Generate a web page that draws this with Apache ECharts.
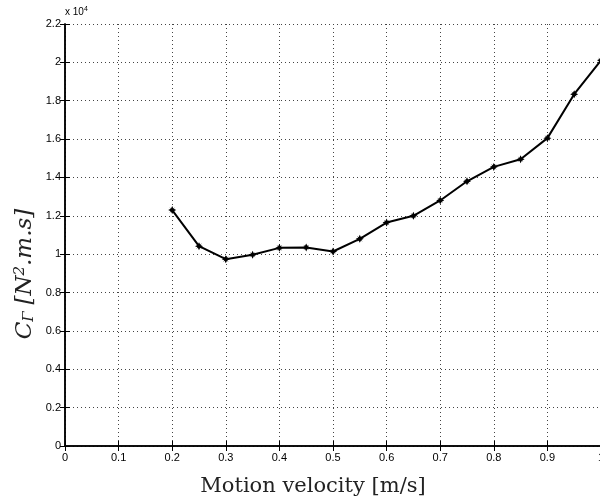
<!DOCTYPE html>
<html><head><meta charset="utf-8">
<script src="https://cdn.jsdelivr.net/npm/echarts@6/dist/echarts.min.js"></script>
<style>html,body{margin:0;padding:0;background:#fff}#c{width:600px;height:503px}</style>
</head><body><div id="c"></div>
<script>
const velocity = [0.2,0.25,0.3,0.35,0.4,0.45,0.5,0.55,0.6,0.65,0.7,0.75,0.8,0.85,0.9,0.95,1.0];
const cGamma = [12300,10420,9740,9970,10330,10350,10140,10800,11650,12000,12800,13800,14550,14950,16050,18340,20110];
const xTicks = [0,0.1,0.2,0.3,0.4,0.5,0.6,0.7,0.8,0.9,1];
const yTicks = [0,0.2,0.4,0.6,0.8,1,1.2,1.4,1.6,1.8,2,2.2];

const chart = echarts.init(document.getElementById('c'));
const labelFont = {fontFamily:'Liberation Sans, Arial', fontSize:11, color:'#000'};
const grid = {left:65, right:-1, top:24, bottom:57, outerBoundsMode:'none', containLabel:false};
const dotted = {show:true, lineStyle:{color:'#444', type:[1,3], width:1}};
chart.setOption({
  animation:false,
  grid: grid,
  graphic:[{
    type:'text', left:65, top:6,
    style:{text:'{a|x 10}{s|4}', rich:{a:{fontFamily:'Liberation Sans, Arial',fontSize:10,fill:'#000'}, s:{fontFamily:'Liberation Sans, Arial',fontSize:7,fill:'#000',verticalAlign:'top',padding:[0,0,6,0]}}}
  },{
    type:'text', x:313, y:487,
    style:{text:'Motion velocity [m/s]', fontFamily:'DejaVu Serif', fontSize:21, fill:'#222', align:'center', verticalAlign:'middle'}
  },{
    type:'text', x:25, y:274, rotation:Math.PI/2,
    style:{text:'{i|C}{sub|Γ}  {i|[N}{sup|2}{i|.m.s]}', align:'center', verticalAlign:'middle', rich:{
      i:{fontFamily:'DejaVu Serif',fontStyle:'italic',fontSize:23,fill:'#222'},
      sub:{fontFamily:'DejaVu Serif',fontStyle:'italic',fontSize:15,fill:'#222',verticalAlign:'bottom',padding:[9,0,0,0]},
      sup:{fontFamily:'DejaVu Serif',fontStyle:'italic',fontSize:15,fill:'#222',verticalAlign:'top',padding:[0,0,9,0]}
    }}
  }],
  xAxis:[{
    type:'value', min:0, max:1, interval:0.1,
    axisLine:{show:true,lineStyle:{color:'#000',width:1.5}},
    axisTick:{show:true,inside:true,length:5,lineStyle:{color:'#000'}},
    axisLabel:Object.assign({margin:6, formatter:v=>String(+v.toFixed(1))}, labelFont),
    splitLine:dotted
  },{
    type:'value', position:'top', min:0, max:1, interval:0.1,
    axisLine:{show:true,lineStyle:{color:'#000',width:1.5}},
    axisTick:{show:true,inside:true,length:5,lineStyle:{color:'#000'}},
    axisLabel:{show:false}, splitLine:{show:false}
  }],
  yAxis:[{
    type:'value', min:0, max:22000, interval:2000,
    axisLine:{show:true,lineStyle:{color:'#000',width:1.5}},
    axisTick:{show:true,inside:true,length:5,lineStyle:{color:'#000'}},
    axisLabel:Object.assign({margin:4, formatter:v=>String(+(v/1e4).toFixed(1))}, labelFont),
    splitLine:dotted
  },{
    type:'value', position:'right', min:0, max:22000, interval:2000,
    axisLine:{show:true,lineStyle:{color:'#000',width:1.5}},
    axisTick:{show:true,inside:true,length:5,lineStyle:{color:'#000'}},
    axisLabel:{show:false}, splitLine:{show:false}
  }],
  series:[{
    type:'line', data: velocity.map((x,i)=>[x,cGamma[i]]),
    lineStyle:{color:'#000',width:2},
    itemStyle:{color:'#000'},
    symbol:'path://M0,-1L0.3,-0.4L0.7,-0.7L0.4,-0.3L1,0L0.4,0.3L0.7,0.7L0.3,0.4L0,1L-0.3,0.4L-0.7,0.7L-0.4,0.3L-1,0L-0.4,-0.3L-0.7,-0.7L-0.3,-0.4Z',
    symbolSize:8, showSymbol:true, clip:false
  }]
});
</script></body></html>
